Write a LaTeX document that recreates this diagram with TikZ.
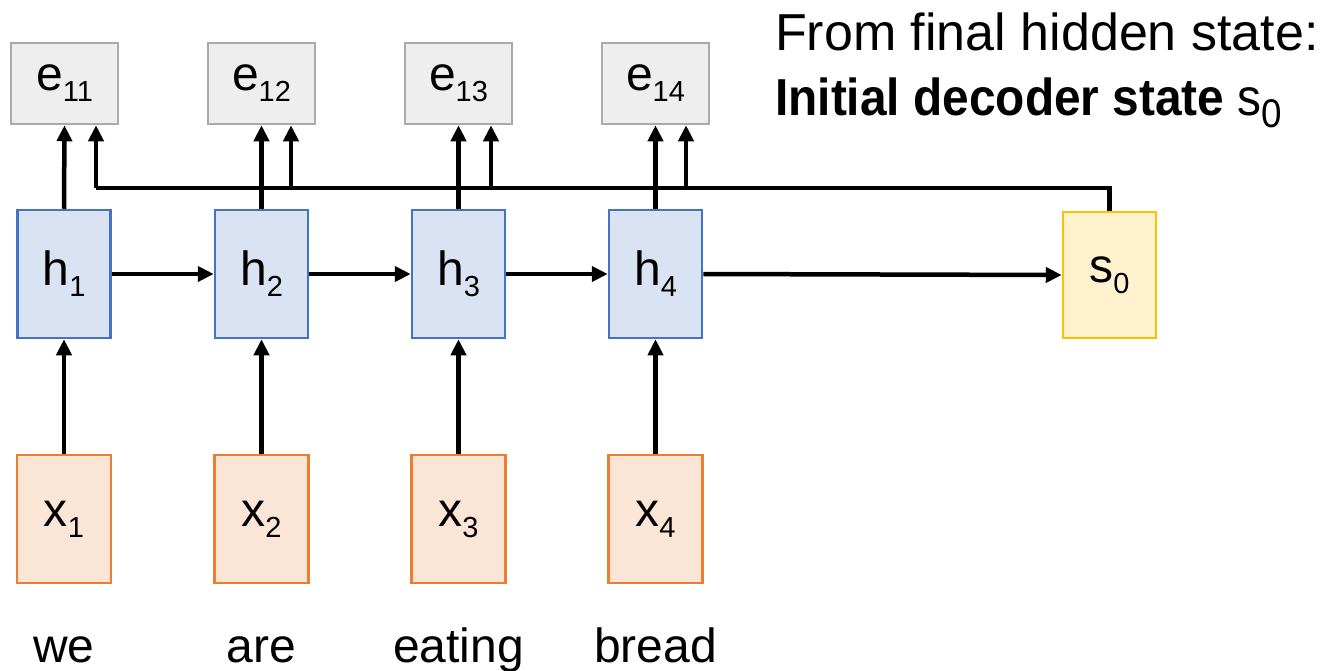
\documentclass[tikz,border=0pt]{standalone}
\usepackage{fontspec}
\setmainfont{Liberation Sans}
\usetikzlibrary{arrows.meta,calc}
\definecolor{efill}{HTML}{EEEEEE}
\definecolor{edraw}{HTML}{AAAAAA}
\definecolor{hfill}{HTML}{DAE3F3}
\definecolor{hdraw}{HTML}{4472C4}
\definecolor{xfill}{HTML}{FBE5D6}
\definecolor{xdraw}{HTML}{ED7D31}
\definecolor{sfill}{HTML}{FFF2CC}
\definecolor{sdraw}{HTML}{FFC000}
\newcommand{\lbl}[2]{\fontsize{48}{48}\selectfont #1\raisebox{-11pt}{\fontsize{29}{29}\selectfont #2}}
\tikzset{
  box/.style={rectangle, inner sep=0pt, line width=2.5pt},
  ebox/.style={box, fill=efill, draw=edraw, minimum width=107pt, minimum height=81pt},
  hbox/.style={box, fill=hfill, draw=hdraw, minimum width=93pt, minimum height=128pt},
  xbox/.style={box, fill=xfill, draw=xdraw, minimum width=94pt, minimum height=128pt},
  sbox/.style={box, fill=sfill, draw=sdraw, minimum width=93pt, minimum height=126pt},
  arr/.style={line width=4.5pt, -{Triangle[length=16pt,width=15pt]}},
  bus/.style={line width=4.5pt, line join=miter},
  word/.style={anchor=base, inner sep=0pt, font=\fontsize{48}{48}\selectfont},
  ttl/.style={anchor=base west, inner sep=0pt, font=\fontsize{52}{52}\selectfont}
}
\begin{document}
\begin{tikzpicture}[x=1pt,y=-1pt]
\useasboundingbox (0,0) rectangle (1340,670);
% e boxes
\node[ebox] (e1) at (64.5,83.5) {\lbl{e}{11}};
\node[ebox] (e2) at (261.5,83.5) {\lbl{e}{12}};
\node[ebox] (e3) at (458.5,83.5) {\lbl{e}{13}};
\node[ebox] (e4) at (655.5,83.5) {\lbl{e}{14}};
% h boxes
\node[hbox] (h1) at (64,274) {\lbl{h}{1}};
\node[hbox] (h2) at (261.5,274) {\lbl{h}{2}};
\node[hbox] (h3) at (458.5,274) {\lbl{h}{3}};
\node[hbox] (h4) at (655.5,274) {\lbl{h}{4}};
% x boxes
\node[xbox] (x1) at (64,519) {\lbl{x}{1}};
\node[xbox] (x2) at (261.5,519) {\lbl{x}{2}};
\node[xbox] (x3) at (458.5,519) {\lbl{x}{3}};
\node[xbox] (x4) at (655.5,519) {\lbl{x}{4}};
% s0
\node[sbox] (s0) at (1109.5,275) {\lbl{s}{0}};
% words
\node[word] (w1) at (64,662) {we};
\node[word] (w2) at (261.5,662) {are};
\node[word] (w3) at (458.5,662) {eating};
\node[word] (w4) at (655.5,662) {bread};
% title
\node[ttl] (t1) at (775,50) {From final hidden state:};
\node[ttl] (t2) at (775,115) {\scalebox{0.92}[1]{\textbf{Initial decoder state} s\raisebox{-12pt}{\fontsize{40}{40}\selectfont 0}}};
% bus coordinates
\coordinate (b1) at (96,188);
\coordinate (b2) at (291,188);
\coordinate (b3) at (491,188);
\coordinate (b4) at (686,188);
% bus line
\draw[bus] (s0.north) |- (b1);
% arrows
\foreach \i in {1,2,3,4} {
  \draw[arr] (h\i.north) -- (e\i.south);
  \draw[arr] (b\i) -- (b\i |- e\i.south);
  \draw[arr] (x\i.north) -- (h\i.south);
}
\draw[arr] (h1.east) -- (h2.west);
\draw[arr] (h2.east) -- (h3.west);
\draw[arr] (h3.east) -- (h4.west);
\draw[arr] (h4.east) -- (s0.west);
\end{tikzpicture}
\end{document}
